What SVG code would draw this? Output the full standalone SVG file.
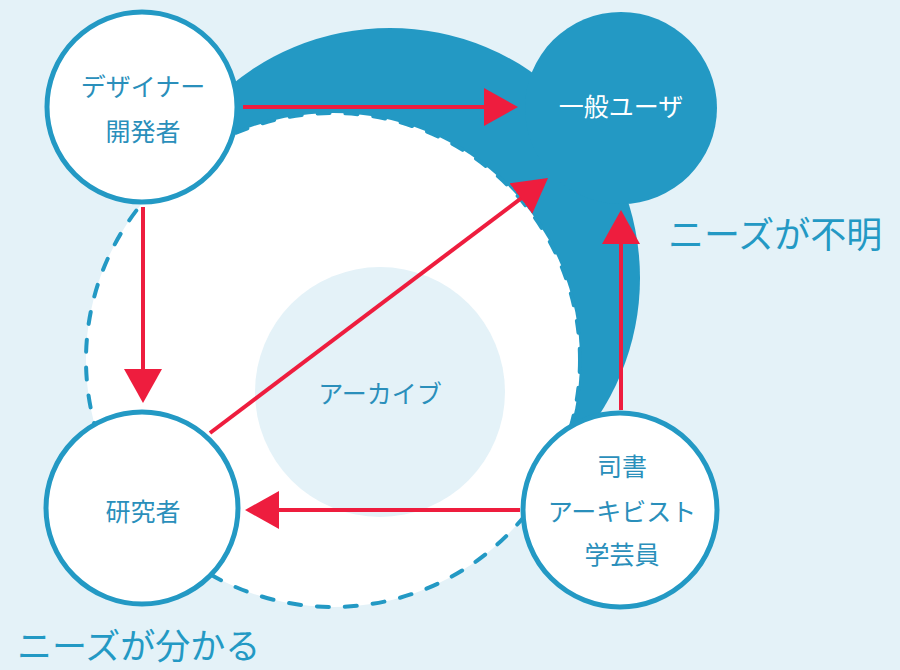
<svg xmlns="http://www.w3.org/2000/svg" width="900" height="670" viewBox="0 0 900 670">
<defs>
<style>
.bg{fill:#e4f2f8}
.blob{fill:#2399c4}
.node{fill:#ffffff;stroke:#2399c4;stroke-width:5}
.lbl{font-family:"Noto Sans CJK JP","Noto Sans",sans-serif;font-size:25px;fill:#2a8fbb;text-anchor:middle}
.big{font-family:"Noto Sans CJK JP","Noto Sans",sans-serif;font-size:36px;fill:#2399c4}
.edge{stroke:#ee1d3e;stroke-width:4;fill:none;marker-end:url(#ah)}
</style>
<marker id="ah" markerUnits="userSpaceOnUse" markerWidth="36" markerHeight="40" refX="30" refY="19" orient="auto">
<path d="M0,0 L34,19 L0,38 z" fill="#ee1d3e"/>
</marker>
</defs>
<rect class="bg" x="0" y="0" width="900" height="670"/>
<g id="unknown-needs-area">
<circle class="blob" cx="390" cy="278" r="250"/>
</g>
<g id="known-needs-area">
<circle cx="333" cy="360" r="247" fill="#ffffff" stroke="#2399c4" stroke-width="4" stroke-dasharray="12 16" stroke-linecap="round"/>
</g>
<g id="archive">
<circle cx="380" cy="392" r="125" fill="#e4f2f8"/>
<text class="lbl" x="380" y="403">アーカイブ</text>
</g>
<g id="connectors">
<line class="edge" x1="243" y1="107" x2="514" y2="107"/>
<line class="edge" x1="143" y1="207" x2="143" y2="399"/>
<line class="edge" x1="210" y1="433" x2="544.8" y2="180.4"/>
<line class="edge" x1="520" y1="510" x2="249" y2="510"/>
<line class="edge" x1="621" y1="410" x2="621" y2="214"/>
</g>
<g id="general-user">
<circle class="blob" cx="621" cy="108" r="96"/>
<text class="lbl" x="621" y="116" style="fill:#ffffff">一般ユーザ</text>
</g>
<g id="designer">
<circle class="node" cx="142" cy="107" r="95"/>
<text class="lbl" x="143" y="96">デザイナー</text>
<text class="lbl" x="143" y="141">開発者</text>
</g>
<g id="researcher">
<circle class="node" cx="142" cy="508" r="96"/>
<text class="lbl" x="143" y="521">研究者</text>
</g>
<g id="librarian">
<circle class="node" cx="620" cy="510" r="97"/>
<text class="lbl" x="622" y="476">司書</text>
<text class="lbl" x="622" y="521">アーキビスト</text>
<text class="lbl" x="622" y="564">学芸員</text>
</g>
<text class="big" x="668" y="248">ニーズが不明</text>
<text class="big" x="17" y="659" style="font-size:35px">ニーズが分かる</text>
</svg>
